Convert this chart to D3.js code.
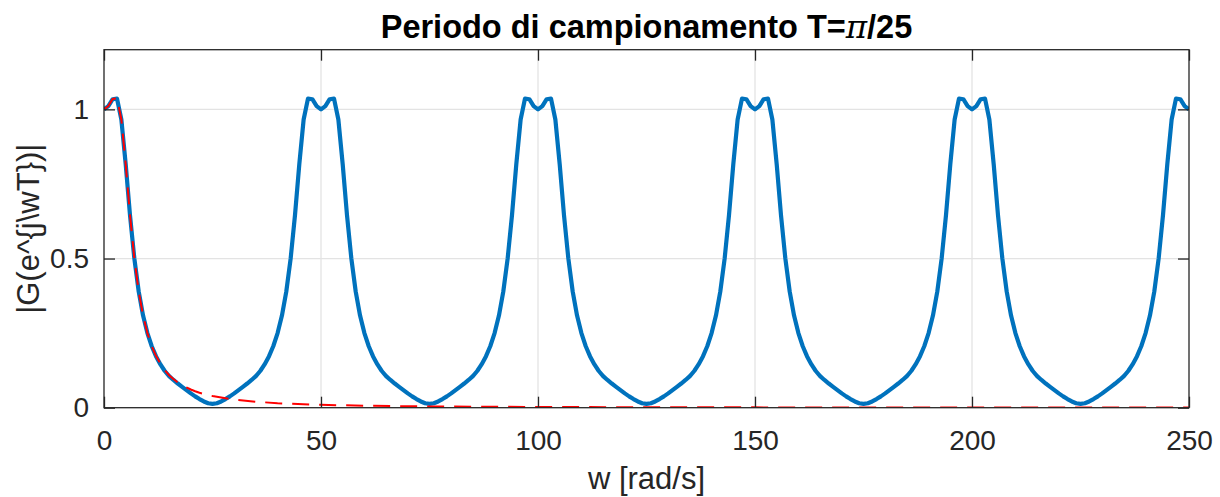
<!DOCTYPE html>
<html>
<head>
<meta charset="utf-8">
<script src="https://cdn.jsdelivr.net/npm/d3@7"></script>
<style>
  body { margin: 0; background: #fff; }
  svg { display: block; font-family: "Liberation Sans", Arial, Helvetica, sans-serif; }
</style>
</head>
<body>
<div id="vis"></div>
<script>
// ---------- DATA ----------
// discrete-time magnitude |G(e^{jwT})|, w = 0,1,2,...,250 rad/s
const blueMag = [
  1.000,1.011,1.034,1.036,0.966,0.816,0.644,0.499,0.389,0.309,0.250,0.206,0.172,0.145,0.123,0.106,0.093,0.081,0.070,0.059,0.048,0.038,0.029,0.021,0.015,0.013,0.015,0.021,0.029,0.038,0.048,0.059,0.070,0.081,0.093,0.106,0.123,0.145,0.172,0.206,0.250,0.309,0.389,0.499,0.644,0.816,0.966,1.036,1.034,1.011,
  1.000,1.011,1.034,1.036,0.966,0.816,0.644,0.499,0.389,0.309,0.250,0.206,0.172,0.145,0.123,0.106,0.093,0.081,0.070,0.059,0.048,0.038,0.029,0.021,0.015,0.013,0.015,0.021,0.029,0.038,0.048,0.059,0.070,0.081,0.093,0.106,0.123,0.145,0.172,0.206,0.250,0.309,0.389,0.499,0.644,0.816,0.966,1.036,1.034,1.011,
  1.000,1.011,1.034,1.036,0.966,0.816,0.644,0.499,0.389,0.309,0.250,0.206,0.172,0.145,0.123,0.106,0.093,0.081,0.070,0.059,0.048,0.038,0.029,0.021,0.015,0.013,0.015,0.021,0.029,0.038,0.048,0.059,0.070,0.081,0.093,0.106,0.123,0.145,0.172,0.206,0.250,0.309,0.389,0.499,0.644,0.816,0.966,1.036,1.034,1.011,
  1.000,1.011,1.034,1.036,0.966,0.816,0.644,0.499,0.389,0.309,0.250,0.206,0.172,0.145,0.123,0.106,0.093,0.081,0.070,0.059,0.048,0.038,0.029,0.021,0.015,0.013,0.015,0.021,0.029,0.038,0.048,0.059,0.070,0.081,0.093,0.106,0.123,0.145,0.172,0.206,0.250,0.309,0.389,0.499,0.644,0.816,0.966,1.036,1.034,1.011,
  1.000,1.011,1.034,1.036,0.966,0.816,0.644,0.499,0.389,0.309,0.250,0.206,0.172,0.145,0.123,0.106,0.093,0.081,0.070,0.059,0.048,0.038,0.029,0.021,0.015,0.013,0.015,0.021,0.029,0.038,0.048,0.059,0.070,0.081,0.093,0.106,0.123,0.145,0.172,0.206,0.250,0.309,0.389,0.499,0.644,0.816,0.966,1.036,1.034,1.011,
  1.000
];
const blueW = blueMag.map((d, i) => i);

// continuous-time magnitude |G(jw)| (dashed red)
const redW = [0,1,2,3,4,5,6,7,8,9,10,11,12,13,14,15,16,17,18,19,20,21,22,23,24,25,
  30,35,40,50,60,70,80,100,125,150,200,250];
const redMag = [1.000,1.011,1.035,1.037,0.966,0.816,0.644,0.499,0.389,0.309,0.250,0.206,0.173,0.147,0.126,0.109,0.096,0.085,0.076,0.068,0.061,0.055,0.050,0.046,0.042,0.039,
  0.027,0.020,0.015,0.0096,0.0067,0.0049,0.0038,0.0024,0.0015,0.0011,0.0006,0.0004];

const xTicks = [0, 50, 100, 150, 200, 250];
const yTicks = [0, 0.5, 1];
const yTickLabels = ["0", "0.5", "1"];

// ---------- FRAME ----------
const FRAME_WIDTH = 1220;
const FRAME_HEIGHT = 497;
const PLOT = { left: 104, right: 1189, top: 49.7, bottom: 407.7 };
const TICK = 11;
const AXIS_COLOR = "#262626";

const svg = d3.select("#vis")
  .append("svg")
  .attr("width", FRAME_WIDTH)
  .attr("height", FRAME_HEIGHT);

const x = d3.scaleLinear().domain([0, 250]).range([PLOT.left, PLOT.right]);
const y = d3.scaleLinear().domain([0, 1.2]).range([PLOT.bottom, PLOT.top]);

// grid
svg.append("g")
  .selectAll("line")
  .data(xTicks.slice(1, -1))
  .enter().append("line")
  .attr("x1", d => x(d)).attr("x2", d => x(d))
  .attr("y1", PLOT.top).attr("y2", PLOT.bottom)
  .attr("stroke", "#e3e3e3").attr("stroke-width", 1.3);

svg.append("g")
  .selectAll("line")
  .data(yTicks.slice(1))
  .enter().append("line")
  .attr("x1", PLOT.left).attr("x2", PLOT.right)
  .attr("y1", d => y(d)).attr("y2", d => y(d))
  .attr("stroke", "#e3e3e3").attr("stroke-width", 1.3);

// lines
svg.append("clipPath").attr("id", "clip")
  .append("rect")
  .attr("x", PLOT.left).attr("y", PLOT.top)
  .attr("width", PLOT.right - PLOT.left).attr("height", PLOT.bottom - PLOT.top);

const line = d3.line().x(d => x(d[0])).y(d => y(d[1]));

svg.append("path")
  .datum(blueW.map((w, i) => [w, blueMag[i]]))
  .attr("clip-path", "url(#clip)")
  .attr("fill", "none")
  .attr("stroke", "#0072BD")
  .attr("stroke-width", 4.2)
  .attr("stroke-linejoin", "round")
  .attr("d", line);

svg.append("path")
  .datum(redW.map((w, i) => [w, redMag[i]]))
  .attr("clip-path", "url(#clip)")
  .attr("fill", "none")
  .attr("stroke", "#FF0000")
  .attr("stroke-width", 2)
  .attr("stroke-dasharray", "17,10")
  .attr("d", line);

// axes (ticks pointing inwards, MATLAB style)
function styleAxis(g) {
  g.select(".domain").remove();
  g.selectAll(".tick line").attr("stroke", AXIS_COLOR).attr("stroke-width", 1.3);
  g.selectAll(".tick text").attr("fill", AXIS_COLOR).style("font-size", "28px");
}

svg.append("g")
  .attr("transform", `translate(0,${PLOT.bottom})`)
  .call(d3.axisBottom(x).tickValues(xTicks).tickSize(-TICK).tickPadding(22).tickFormat(d3.format("d")))
  .call(styleAxis);

svg.append("g")
  .attr("transform", `translate(0,${PLOT.top})`)
  .call(d3.axisTop(x).tickValues(xTicks).tickSize(-TICK).tickFormat(""))
  .call(styleAxis);

svg.append("g")
  .attr("transform", `translate(${PLOT.left},0)`)
  .call(d3.axisLeft(y).tickValues(yTicks).tickSize(-TICK).tickPadding(15).tickFormat((d, i) => yTickLabels[i]))
  .call(styleAxis);

svg.append("g")
  .attr("transform", `translate(${PLOT.right},0)`)
  .call(d3.axisRight(y).tickValues(yTicks).tickSize(-TICK).tickFormat(""))
  .call(styleAxis);

// box
svg.append("rect")
  .attr("x", PLOT.left).attr("y", PLOT.top)
  .attr("width", PLOT.right - PLOT.left).attr("height", PLOT.bottom - PLOT.top)
  .attr("fill", "none")
  .attr("stroke", AXIS_COLOR)
  .attr("stroke-width", 1.3);

// texts
const title = svg.append("text")
  .attr("x", (PLOT.left + PLOT.right) / 2)
  .attr("y", 38)
  .attr("text-anchor", "middle")
  .style("font-size", "32.5px")
  .style("font-weight", "bold")
  .attr("fill", "#000");
title.append("tspan").text("Periodo di campionamento T=");
title.append("tspan")
  .style("font-style", "italic")
  .style("font-weight", "normal")
  .style("font-family", "'DejaVu Serif', 'Liberation Serif', serif")
  .text("π");
title.append("tspan").text("/25");

svg.append("text")
  .attr("x", (PLOT.left + PLOT.right) / 2)
  .attr("y", 489)
  .attr("text-anchor", "middle")
  .style("font-size", "31px")
  .attr("fill", AXIS_COLOR)
  .text("w [rad/s]");

svg.append("text")
  .attr("transform", `translate(39,${(PLOT.top + PLOT.bottom) / 2}) rotate(-90)`)
  .attr("text-anchor", "middle")
  .style("font-size", "31px")
  .attr("fill", AXIS_COLOR)
  .text("|G(e^{j\\wT})|");
</script>
</body>
</html>
